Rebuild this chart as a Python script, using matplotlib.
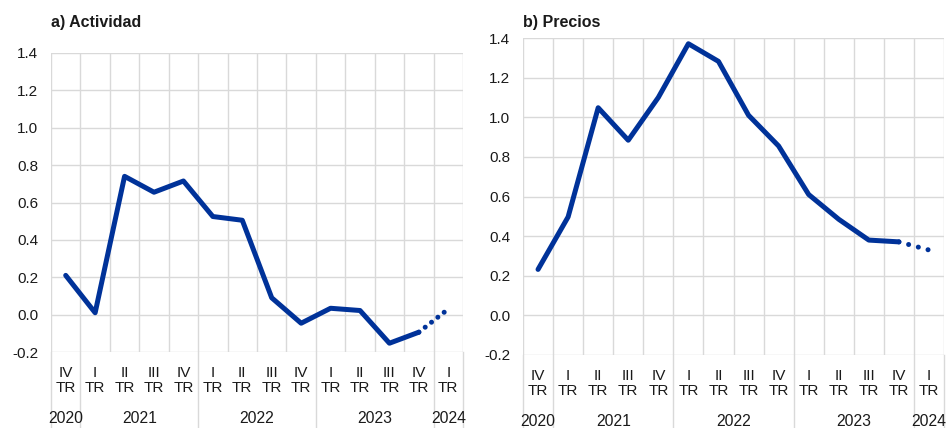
import matplotlib
matplotlib.use("Agg")
import matplotlib.pyplot as plt
import matplotlib.transforms as mtransforms

plt.rcParams['font.family'] = ['Liberation Sans', 'DejaVu Sans']

quarters = ["IV", "I", "II", "III", "IV", "I", "II", "III", "IV", "I", "II", "III", "IV", "I"]
years = ["2020", "2021", "2022", "2023", "2024"]
year_centers = [0, 2.5, 6.5, 10.5, 13]
year_bounds = [-0.5, 0.5, 4.5, 8.5, 12.5, 13.5]

actividad = [0.21, 0.01, 0.74, 0.655, 0.715, 0.525, 0.505, 0.09, -0.046, 0.034, 0.022, -0.153, -0.094]
actividad_proj = [-0.094, 0.03]
precios = [0.232, 0.497, 1.048, 0.884, 1.10, 1.371, 1.282, 1.01, 0.855, 0.61, 0.485, 0.38, 0.371]
precios_proj = [0.371, 0.33]

yticks = [-0.2, 0.0, 0.2, 0.4, 0.6, 0.8, 1.0, 1.2, 1.4]

BLUE = "#003299"
GRID = "#d9d9d9"
TXT = "#1a1a1a"
W, H = 948, 428
fig = plt.figure(figsize=(W / 100, H / 100), dpi=100)

def px_axes(l, r, t, b):
    return fig.add_axes([l / W, 1 - b / H, (r - l) / W, (b - t) / H])

panels = [
    (px_axes(51, 463, 53, 352), "a) Actividad", actividad, actividad_proj, 1.6),
    (px_axes(523, 944, 38, 355), "b) Precios", precios, precios_proj, 2.0),
]

for ax, title, vals, proj, gap in panels:
    ax.set_xlim(-0.5, 13.5)
    ax.set_ylim(-0.2, 1.4)
    for s in ax.spines.values():
        s.set_visible(False)
    ax.set_yticks(yticks)
    ax.set_yticklabels([f"{v:.1f}" for v in yticks], fontsize=11, color=TXT)
    ax.tick_params(axis='y', length=0, pad=9)
    ax.set_xticks([])
    for y in yticks:
        ax.axhline(y, color=GRID, lw=1.0, zorder=0)
    for k in range(15):
        ax.axvline(k - 0.5, color=GRID, lw=1.0, zorder=0)
    trans = mtransforms.blended_transform_factory(ax.transData, ax.transAxes)
    for xb in year_bounds:
        ax.plot([xb, xb], [0, -0.3], transform=trans, color=GRID, lw=1.0, clip_on=False, zorder=0)
    for i, q in enumerate(quarters):
        ax.annotate(q + "\nTR", xy=(i, 0), xycoords=trans, xytext=(0, -20.5),
                    textcoords='offset points', ha='center', va='center',
                    fontsize=11, color=TXT, linespacing=1.1)
    for yr, xc in zip(years, year_centers):
        ax.annotate(yr, xy=(xc, 0), xycoords=trans, xytext=(0, -48),
                    textcoords='offset points', ha='center', va='center',
                    fontsize=11.3, color=TXT)
    x = list(range(len(vals)))
    ax.plot(x, vals, color=BLUE, lw=3.6, solid_capstyle='round', solid_joinstyle='round', zorder=3)
    ax.plot([len(vals) - 1, len(vals)], proj, color=BLUE, lw=3.6,
            linestyle=(0, (0.01, gap)), dash_capstyle='round', zorder=3)
    fig.text(ax.get_position().x0, 1 - 22 / H, title, fontsize=11.5, fontweight='bold',
             ha='left', va='center', color=TXT)

fig.savefig("out.png", dpi=100)
